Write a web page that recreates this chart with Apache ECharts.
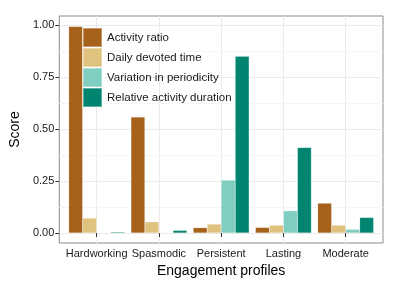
<!DOCTYPE html>
<html><head><meta charset="utf-8">
<script src="https://cdn.jsdelivr.net/npm/echarts@6/dist/echarts.min.js"></script>
<style>html,body{margin:0;padding:0;background:#fff}#c{width:399px;height:286px}</style>
</head><body><div id="c"></div>
<script>
const categories = ['Hardworking','Spasmodic','Persistent','Lasting','Moderate'];
const seriesNames = ['Activity ratio','Daily devoted time','Variation in periodicity','Relative activity duration'];
const activityRatio = [0.995, 0.559, 0.026, 0.027, 0.144];
const dailyDevoted = [0.072, 0.054, 0.043, 0.038, 0.038];
const variationPeriodicity = [0.0, 0.002, 0.255, 0.107, 0.018];
const relativeDuration = [0.005, 0.013, 0.851, 0.412, 0.075];
const yTicks = [0, 0.25, 0.5, 0.75, 1.0];
const yMinor = [0.125, 0.375, 0.625, 0.875];
const colors = ['#A6611A','#DFC27D','#80CDC1','#018571'];

const values = [activityRatio, dailyDevoted, variationPeriodicity, relativeDuration];
const xPos = categories.map((c,i)=>i+1);
const font = 'Liberation Sans, Arial, sans-serif';
const chart = echarts.init(document.getElementById('c'), null, {renderer:'canvas'});
chart.setOption({
  animation:false,
  color: colors,
  grid:{left:57,right:16,top:16,bottom:43,show:true,borderColor:'#8c8c8c',borderWidth:1,backgroundColor:'#fff'},
  legend:{
    orient:'vertical', left:77, top:22, itemWidth:19, itemHeight:19, itemGap:-1,
    icon:'rect', data:seriesNames,
    textStyle:{fontFamily:font,fontSize:11.5,color:'#1a1a1a'}
  },
  xAxis:{
    type:'value', min:0.4, max:5.6,
    name:'Engagement profiles', nameLocation:'middle', nameGap:18,
    nameTextStyle:{fontFamily:font,fontSize:14,color:'#000'},
    axisLine:{show:false},
    axisTick:{show:true,length:4,lineStyle:{color:'#333'},customValues:xPos},
    axisLabel:{fontFamily:font,fontSize:11,color:'#1a1a1a',margin:5,customValues:xPos,
      formatter:v=>categories[Math.round(v)-1]||''},
    splitLine:{show:true,lineStyle:{color:'#ebebeb',width:1}}
  },
  yAxis:[{
    type:'value', min:-0.048, max:1.045,
    name:'Score', nameLocation:'middle', nameGap:27,
    nameTextStyle:{fontFamily:font,fontSize:14,color:'#000'},
    axisLine:{show:false},
    axisTick:{show:true,length:4,lineStyle:{color:'#333'},customValues:yTicks},
    axisLabel:{fontFamily:font,fontSize:11,color:'#1a1a1a',margin:5,customValues:yTicks,
      formatter:v=>v.toFixed(2)},
    splitLine:{show:true,lineStyle:{color:'#ebebeb',width:1}}
  },{
    type:'value', min:-0.048, max:1.045, position:'left',
    axisLine:{show:false}, axisLabel:{show:false},
    axisTick:{show:false,customValues:yMinor},
    splitLine:{show:true,lineStyle:{color:'#f5f5f5',width:1}}
  }],
  series: seriesNames.map((n,k)=>({
    name:n, type:'bar', barWidth:14, barGap:'0%',
    itemStyle:{color:colors[k], borderColor:'rgba(255,255,255,0.35)', borderWidth:0.5},
    data: values[k].map((v,i)=>[xPos[i], v])
  }))
});
</script></body></html>
